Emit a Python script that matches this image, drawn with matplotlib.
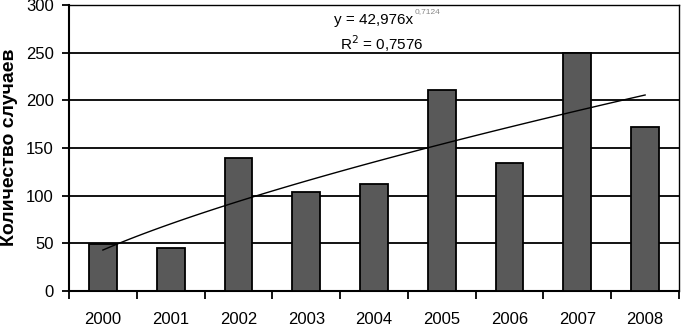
import matplotlib
matplotlib.use("Agg")
import matplotlib.pyplot as plt
import numpy as np

years = ["2000", "2001", "2002", "2003", "2004", "2005", "2006", "2007", "2008"]
cases = [49, 45, 140, 104, 112, 211, 134, 250, 172]
trend_a = 42.976
trend_b = 0.7124
eq_text = "y = 42,976x"
exp_text = "0,7124"
r2_text = "0,7576"
ylabel = "Количество случаев"

plt.rcParams['font.family'] = ['Liberation Sans', 'DejaVu Sans']

fig = plt.figure(figsize=(6.81, 3.26), dpi=100)
ax = fig.add_axes([69/681, 35/326, 610/681, 286/326])

x = np.arange(len(years))
ax.bar(x, cases, width=0.41, color='#595959', edgecolor='black', linewidth=1.3, zorder=3)

tx = np.linspace(1, len(years), 100)
ty = trend_a * tx ** trend_b
ax.plot(tx - 1, ty, color='black', linewidth=1.0, zorder=4)

ax.set_xlim(-0.5, len(years) - 0.5)
ax.set_ylim(0, 300)
ax.set_yticks(np.arange(0, 301, 50))
ax.yaxis.grid(True, color='black', linewidth=1.3, zorder=0)
ax.set_axisbelow(True)

ax.set_xticks(x)
ax.set_xticklabels(years)
ax.set_xticks(np.arange(-0.5, len(years), 1), minor=True)
ax.tick_params(axis='x', which='major', length=0, labelsize=12, pad=15)
ax.tick_params(axis='x', which='minor', length=6, width=1.3, direction='out')
ax.tick_params(axis='y', length=5, width=1.3, direction='out', labelsize=12, pad=6)

for s in ['left', 'bottom']:
    ax.spines[s].set_linewidth(1.5)
for s in ['top', 'right']:
    ax.spines[s].set_linewidth(1.0)

fig.text(10/681, (326 - 147)/326, ylabel, rotation=90, ha='center', va='center',
         fontsize=14, fontweight='bold')

ax.text(4.57, 284, eq_text, ha='right', va='center', fontsize=11)
ax.text(4.60, 293, exp_text, ha='left', va='center', fontsize=6, color='#888888')
ax.text(4.12, 259, "R$^2$ = " + r2_text, ha='center', va='center', fontsize=11)

fig.savefig("out.png", dpi=100)
